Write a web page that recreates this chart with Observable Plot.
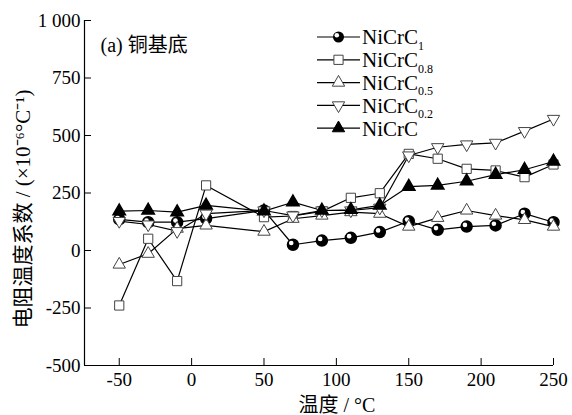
<!DOCTYPE html>
<html><head><meta charset="utf-8">
<script src="https://cdn.jsdelivr.net/npm/d3@7"></script>
<script src="https://cdn.jsdelivr.net/npm/@observablehq/plot@0.6"></script>
<style>
body{margin:0;background:#fff}
#wrap{position:relative;width:572px;height:415px}
#legend{position:absolute;left:300px;top:20px}
</style>
</head><body><div id="wrap"></div>
<script>
// ---- data ----
const temps   = [-50,-30,-10,10,50,70,90,110,130,150,170,190,210,230,250];
const nicrc1  = [135,123,123,139,174,25,43,55,80,127,90,104,109,160,123];
const nicrc08 = [-239,51,-133,283,145,150,170,229,249,420,399,355,348,319,374];
const nicrc05 = [-61,-14,95,109,82,138,152,167,160,104,142,174,152,133,104];
const nicrc02 = [128,113,84,160,174,152,174,174,186,413,449,461,468,519,572];
const nicrc   = [171,174,167,196,171,210,174,177,196,278,283,301,330,351,387];
const seriesKeys = ["NiCrC1","NiCrC0.8","NiCrC0.5","NiCrC0.2","NiCrC"];
const seriesSubs = ["1","0.8","0.5","0.2",""];
const seriesVals = [nicrc1,nicrc08,nicrc05,nicrc02,nicrc];
const xTicks = [-50,0,50,100,150,200,250];
const yTicks = [-500,-250,0,250,500,750,1000];
const xDomain = [-74,250];
const yDomain = [-500,1000];
const titleText = "(a) 铜基底";
const xLabel = "温度 / °C";
const yLabel = "电阻温度系数 / (×10⁻⁶°C⁻¹)";

const rows = [];
seriesKeys.forEach((k,i)=>temps.forEach((t,j)=>rows.push({s:k,t,v:seriesVals[i][j]})));
const of = k => rows.filter(d=>d.s===k);

const downTri = {draw(ctx,size){
  const t={moveTo:(x,y)=>ctx.moveTo(x,-y),lineTo:(x,y)=>ctx.lineTo(x,-y),closePath:()=>ctx.closePath()};
  d3.symbolTriangle.draw(t,size);
}};

const W=572,H=415,ML=84,MR=19,MT=20,MB=50;
const fw=W-ML-MR, fh=H-MT-MB;
const serif = "'Liberation Serif','Times New Roman','Noto Sans CJK SC',serif";

const chart = Plot.plot({
  width:W,height:H,marginLeft:ML,marginRight:MR,marginTop:MT,marginBottom:MB,
  style:{fontFamily:serif,fontSize:"19px",color:"#000",background:"#fff",overflow:"visible"},
  x:{domain:xDomain},
  y:{domain:yDomain},
  marks:[
    Plot.ruleX([xDomain[0]],{stroke:"black",strokeWidth:1.2}),
    Plot.ruleY([yDomain[0]],{stroke:"black",strokeWidth:1.2}),
    Plot.tickX(xTicks,{x:d=>d,insetTop:fh-7,stroke:"black"}),
    Plot.tickY(yTicks,{y:d=>d,insetRight:fw-7,stroke:"black"}),
    Plot.axisX({ticks:xTicks,tickSize:0,tickPadding:7,label:null,tickFormat:d=>String(d),fontSize:19}),
    Plot.axisY({ticks:yTicks,tickSize:0,tickPadding:4,label:null,tickFormat:d=>d===1000?"1 000":String(d),fontSize:19}),
    Plot.line(rows,{x:"t",y:"v",z:"s",stroke:"black",strokeWidth:1.2}),
    Plot.dot(of("NiCrC1"),{x:"t",y:"v",r:5.5,fill:"black",stroke:"black"}),
    Plot.dot(of("NiCrC1"),{x:"t",y:"v",r:2.3,fill:"white",dx:-1.7,dy:-1.7}),
    Plot.dot(of("NiCrC0.8"),{x:"t",y:"v",symbol:"square",r:5.2,fill:"white",stroke:"#444",strokeWidth:1}),
    Plot.dot(of("NiCrC0.5"),{x:"t",y:"v",symbol:"triangle",r:4.6,fill:"white",stroke:"#444",strokeWidth:1}),
    Plot.dot(of("NiCrC0.2"),{x:"t",y:"v",symbol:downTri,r:4.6,fill:"white",stroke:"#444",strokeWidth:1}),
    Plot.dot(of("NiCrC"),{x:"t",y:"v",symbol:"triangle",r:4.6,fill:"black",stroke:"black"}),
    Plot.text([titleText],{frameAnchor:"top-left",dx:16,dy:25,textAnchor:"start",lineAnchor:"middle",fontSize:20}),
    Plot.text([xLabel],{frameAnchor:"bottom",dx:18,dy:40,textAnchor:"middle",lineAnchor:"middle",fontSize:20}),
    Plot.text([yLabel],{frameAnchor:"left",dx:-61,dy:16,rotate:-90,textAnchor:"middle",lineAnchor:"middle",fontSize:21})
  ]
});
const wrap = document.getElementById("wrap");
wrap.appendChild(chart);

// ---- legend ----
const lg = d3.select(wrap).append("svg").attr("id","legend").attr("width",260).attr("height",125);
const rowY = i => 17 + i*22.8;
const mk = [
  g=>{g.append("circle").attr("r",5.5).attr("fill","black");g.append("circle").attr("r",2.3).attr("cx",-1.7).attr("cy",-1.7).attr("fill","white");},
  g=>g.append("path").attr("d",d3.symbol(d3.symbolSquare,Math.PI*5.2*5.2)()).attr("fill","white").attr("stroke","#444"),
  g=>g.append("path").attr("d",d3.symbol(d3.symbolTriangle,Math.PI*4.6*4.6)()).attr("fill","white").attr("stroke","#444"),
  g=>g.append("path").attr("d",d3.symbol(downTri,Math.PI*4.6*4.6)()).attr("fill","white").attr("stroke","#444"),
  g=>g.append("path").attr("d",d3.symbol(d3.symbolTriangle,Math.PI*4.6*4.6)()).attr("fill","black").attr("stroke","black")
];
seriesKeys.forEach((k,i)=>{
  const y=rowY(i);
  lg.append("line").attr("x1",17).attr("x2",60).attr("y1",y).attr("y2",y).attr("stroke","black").attr("stroke-width",1.2);
  const g=lg.append("g").attr("transform",`translate(38.5,${y})`);
  mk[i](g);
  const t=lg.append("text").attr("x",62).attr("y",y).attr("dy","0.35em")
    .attr("font-family",serif).attr("font-size",21).text("NiCrC");
  if(seriesSubs[i]) t.append("tspan").attr("font-size",12).attr("dy","0.45em").text(seriesSubs[i]);
});
</script>
</body></html>
